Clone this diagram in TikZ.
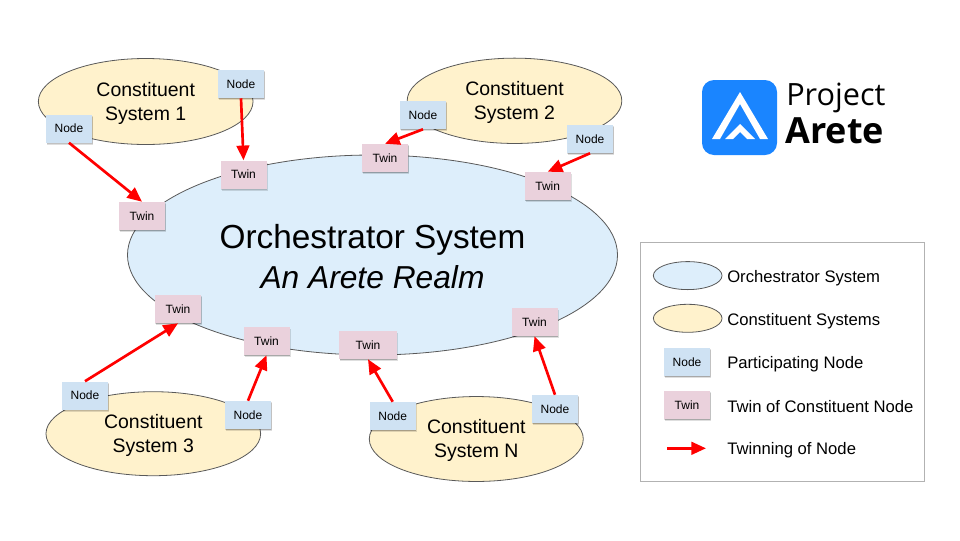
\documentclass[tikz,border=0pt]{standalone}
\usepackage{fontspec}
\setmainfont{Liberation Sans}
\newfontfamily\rob{Liberation Sans}
\newfontfamily\logofont{Open Sans}
\usetikzlibrary{arrows.meta,shadows,shapes.geometric}
\definecolor{orch}{HTML}{DDEEFB}
\definecolor{cons}{HTML}{FFF2CC}
\definecolor{nodeb}{HTML}{CFE2F3}
\definecolor{twinp}{HTML}{EAD1DC}
\definecolor{edgeg}{HTML}{595959}
\definecolor{logob}{HTML}{1A85FF}
\newcommand{\conspad}{\rule{0pt}{13.2pt}}
\newcommand{\orchpad}{\rule{0pt}{20.5pt}}
\tikzset{x=0.75pt,y=-0.75pt,
 sys/.style={ellipse,draw=edgeg,line width=0.6pt,inner sep=0pt,align=center},
 orchsys/.style={sys,fill=orch},
 conssys/.style={sys,fill=cons,font=\rob\fontsize{14.6}{18}\selectfont},
 softshade/.style={general shadow={shadow xshift=#1,shadow yshift=-#1*2,fill=black,opacity=0.13}},
 boxbase/.style={rectangle,minimum width=34.5pt,minimum height=21pt,inner sep=0pt,font=\rob\fontsize{9}{10}\selectfont,
   softshade=0.3pt,softshade=0.55pt,softshade=0.8pt},
 nodebox/.style={boxbase,fill=nodeb},
 twinbox/.style={boxbase,fill=twinp},
 twinning/.style={draw=red,line width=2pt,-{Triangle[length=11pt,width=9.5pt]}},
 legendtext/.style={anchor=west,inner sep=0pt,font=\fontsize{12.5}{14}\selectfont}}
\begin{document}
\begin{tikzpicture}
\useasboundingbox (0,0) rectangle (960,540);
\fill[white] (0,0) rectangle (960,540);
% ellipses
\node[conssys,minimum width=161pt,minimum height=64.5pt] (c1) at (145.7,101.5) {\conspad Constituent\\System 1};
\node[conssys,minimum width=161pt,minimum height=64pt] (c2) at (514.5,100.8) {\conspad Constituent\\System 2};
\node[conssys,minimum width=161pt,minimum height=63pt] (c3) at (153.3,433.7) {\conspad Constituent\\System 3};
\node[conssys,minimum width=160.5pt,minimum height=63.7pt] (c4) at (476.3,439) {\conspad Constituent\\System N};
\node[orchsys,minimum width=367.5pt,minimum height=150pt,font=\rob\fontsize{25}{30}\selectfont] (orch) at (372.5,255) {\orchpad Orchestrator System\\\itshape\fontsize{23.8}{30}\selectfont An Arete Realm};
% boxes
\node[nodebox] (n1) at (241,84) {Node};
\node[nodebox] (n2) at (69,128.5) {Node};
\node[nodebox] (n3) at (423,115) {Node};
\node[nodebox] (n4) at (590,139) {Node};
\node[nodebox] (n5) at (85,395.5) {Node};
\node[nodebox] (n6) at (248,415) {Node};
\node[nodebox] (n7) at (392.7,416) {Node};
\node[nodebox] (n8) at (555,409) {Node};
\node[twinbox] (t1) at (243.5,174.5) {Twin};
\node[twinbox] (t2) at (142,216) {Twin};
\node[twinbox] (t3) at (385,158) {Twin};
\node[twinbox] (t4) at (547.7,186) {Twin};
\node[twinbox] (t5) at (178,309) {Twin};
\node[twinbox] (t6) at (266.5,341) {Twin};
\node[twinbox,minimum width=43pt] (t7) at (368,345) {Twin};
\node[twinbox] (t8) at (534.5,322) {Twin};
% arrows
\draw[twinning] (n1.south) -- (t1.north);
\draw[twinning] (n2.south) -- (t2.north);
\draw[twinning] (n3.south) -- (t3.north);
\draw[twinning] (n4.south) -- (t4.north);
\draw[twinning] (n5.north) -- (t5.south);
\draw[twinning] (n6.north) -- (t6.south);
\draw[twinning] (n7.north) -- (t7.south);
\draw[twinning] (n8.north) -- (t8.south);
% legend
\node[draw=black!30,line width=0.6pt,rectangle,minimum width=213pt,minimum height=179.2pt,inner sep=0pt] (legend) at (782.6,361.8) {};
\node[sys,fill=orch,minimum width=51.5pt,minimum height=21pt] (l1) at (687.7,275.6) {};
\node[sys,fill=cons,minimum width=51.5pt,minimum height=21pt] (l2) at (687.7,318.3) {};
\node[nodebox] (l3) at (687,361.8) {Node};
\node[twinbox] (l4) at (687,405) {Twin};
\coordinate (l5a) at (667,448.3);
\coordinate (l5b) at (706,448.3);
\draw[twinning] (l5a) -- (l5b);
\node[legendtext] (lt1) at (727,278) {Orchestrator System};
\node[legendtext] (lt2) at (727,321) {Constituent Systems};
\node[legendtext] (lt3) at (727,364) {Participating Node};
\node[legendtext] (lt4) at (727,406.5) {Twin of Constituent Node};
\node[legendtext] (lt5) at (727,450) {Twinning of Node};
% logo
\fill[logob,rounded corners=9pt] (702,80) rectangle (777,155);
\fill[white] (740,92) -- (768,139) -- (760,139) -- (740,104) -- (720,139) -- (712,139) -- cycle;
\fill[white] (740,124) -- (755,139) -- (747,139) -- (740,132) -- (733,139) -- (725,139) -- cycle;
\node[anchor=west,inner sep=0pt,font=\logofont\fontsize{23}{26}\selectfont] (p) at (786,98) {Project};
\node[anchor=west,inner sep=0pt,font=\logofont\bfseries\fontsize{27}{28}\selectfont] (a) at (785,131) {Arete};
\end{tikzpicture}
\end{document}
